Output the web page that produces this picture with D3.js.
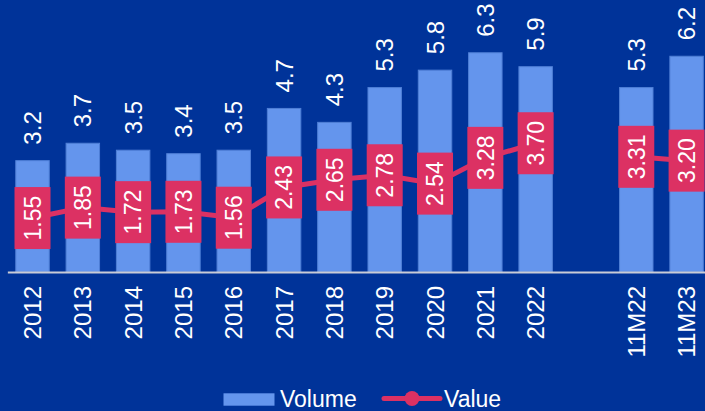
<!DOCTYPE html>
<html>
<head>
<meta charset="utf-8" />
<script src="https://cdn.jsdelivr.net/npm/d3@7"></script>
<style>
  html, body { margin: 0; padding: 0; background: #003399; }
  svg text { font-family: Arial, "Liberation Sans", sans-serif; fill: #fff; }
  svg .bar { fill: #6495ED; stroke: #4f7fd6; stroke-width: 1px; }
  svg .link { fill: none; stroke: #DC3163; stroke-width: 5px; }
  svg .box { fill: #DC3163; }
</style>
</head>
<body>
<div id="chart"></div>
<script>
var width = 705, height = 411;

// categories (empty string = gap between 2022 and 11M22)
var categories = ["2012","2013","2014","2015","2016","2017","2018","2019","2020","2021","2022","","11M22","11M23"];
var volume = [3.2, 3.7, 3.5, 3.4, 3.5, 4.7, 4.3, 5.3, 5.8, 6.3, 5.9, null, 5.3, 6.2];
var value  = [1.55, 1.85, 1.72, 1.73, 1.56, 2.43, 2.65, 2.78, 2.54, 3.28, 3.70, null, 3.31, 3.20];
var volumeLabels = ["3.2","3.7","3.5","3.4","3.5","4.7","4.3","5.3","5.8","6.3","5.9","","5.3","6.2"];
var valueLabels  = ["1.55","1.85","1.72","1.73","1.56","2.43","2.65","2.78","2.54","3.28","3.70","","3.31","3.20"];

var svg = d3.select("#chart").append("svg")
  .attr("width", width)
  .attr("height", height);

var x = d3.scaleBand()
  .domain(categories)
  .range([7.35, 711.75])
  .paddingInner(0.335)
  .paddingOuter(0.1675);

// both series share one scale
var y = d3.scaleLinear()
  .domain([0, 8])
  .range([272, -6.4]);

var rows = categories.map(function(c, i) {
  return { cat: c, vol: volume[i], val: value[i], volLabel: volumeLabels[i], valLabel: valueLabels[i] };
});
var filled = rows.filter(function(d) { return d.vol != null; });

// bars
svg.append("g").selectAll("rect")
  .data(filled)
  .enter()
  .append("rect")
  .attr("class", "bar")
  .attr("x", function(d) { return x(d.cat); })
  .attr("y", function(d) { return y(d.vol); })
  .attr("width", x.bandwidth())
  .attr("height", function(d) { return y(0) - y(d.vol); });

// volume labels above bars
svg.append("g").selectAll("text")
  .data(filled)
  .enter()
  .append("text")
  .attr("transform", function(d) {
    return "translate(" + (x(d.cat) + x.bandwidth() / 2) + "," + (y(d.vol) - 16) + ") rotate(-90)";
  })
  .attr("dy", "0.36em")
  .style("font-size", "24px")
  .text(function(d) { return d.volLabel; });

// x axis
var xAxis = svg.append("g")
  .attr("transform", "translate(0," + y(0) + ")")
  .call(d3.axisBottom(x).tickSize(0).tickSizeOuter(0));
xAxis.select(".domain").attr("stroke", "#c9ccd6").attr("stroke-width", 2);
xAxis.selectAll(".tick text")
  .attr("transform", "rotate(-90)")
  .attr("text-anchor", "end")
  .attr("x", -14)
  .attr("y", 0)
  .attr("dy", "0.36em")
  .style("font-size", "24px")
  .style("font-family", "Arial, 'Liberation Sans', sans-serif")
  .attr("fill", "#fff");

// value line
var line = d3.line()
  .defined(function(d) { return d.val != null; })
  .x(function(d) { return x(d.cat) + x.bandwidth() / 2; })
  .y(function(d) { return y(d.val); });

svg.append("path")
  .datum(rows)
  .attr("class", "link")
  .attr("d", line);

// value boxes
var boxes = svg.append("g").selectAll("g")
  .data(filled)
  .enter()
  .append("g")
  .attr("transform", function(d) {
    return "translate(" + (x(d.cat) + x.bandwidth() / 2) + "," + y(d.val) + ")";
  });
boxes.append("rect")
  .attr("class", "box")
  .attr("x", -18)
  .attr("y", -31)
  .attr("width", 36)
  .attr("height", 62);
boxes.append("text")
  .attr("transform", "rotate(-90)")
  .attr("text-anchor", "middle")
  .attr("dy", "0.36em")
  .style("font-size", "23px")
  .text(function(d) { return d.valLabel; });

// legend
var legend = svg.append("g");
legend.append("rect")
  .attr("x", 223.5).attr("y", 393.3)
  .attr("width", 51).attr("height", 12.4)
  .attr("fill", "#6495ED");
legend.append("text")
  .attr("x", 280).attr("y", 406.5)
  .style("font-size", "23px")
  .text("Volume");
legend.append("line")
  .attr("x1", 384).attr("x2", 440)
  .attr("y1", 398.5).attr("y2", 398.5)
  .attr("stroke", "#DC3163").attr("stroke-width", 5)
  .attr("stroke-linecap", "round");
legend.append("circle")
  .attr("cx", 412).attr("cy", 398.5).attr("r", 7.5)
  .attr("fill", "#DC3163");
legend.append("text")
  .attr("x", 444).attr("y", 406.5)
  .style("font-size", "23px")
  .text("Value");
</script>
</body>
</html>
